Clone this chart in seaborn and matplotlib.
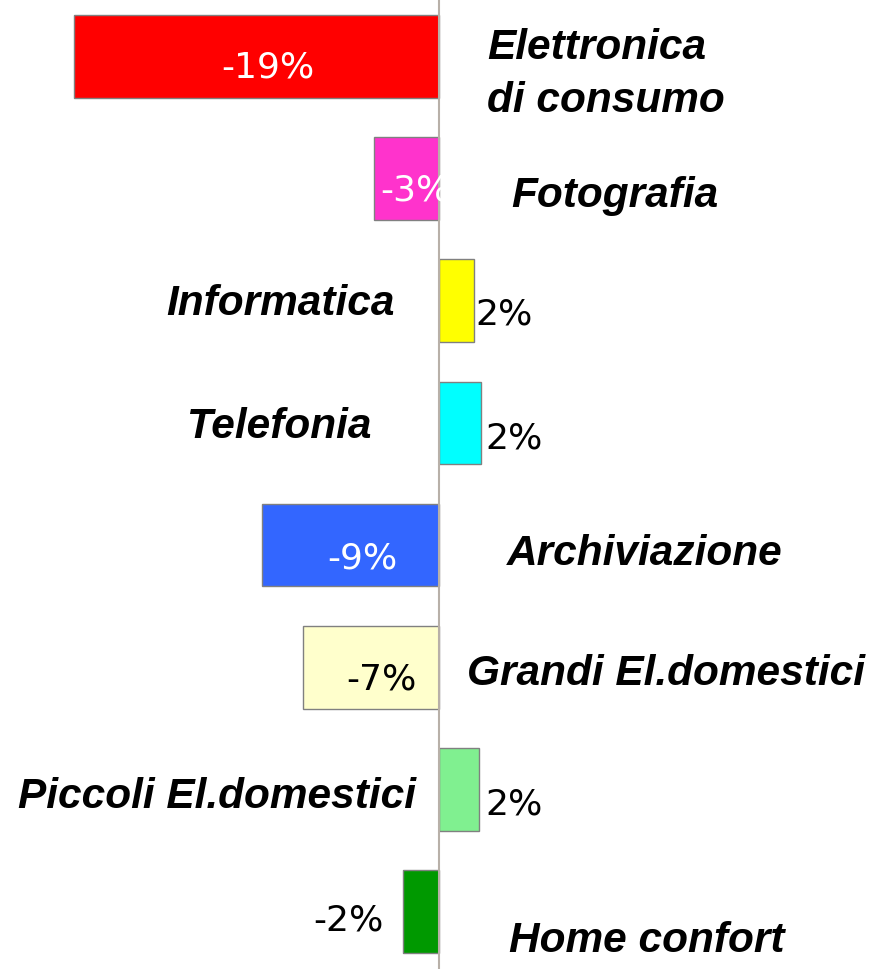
import matplotlib
matplotlib.use("Agg")
import matplotlib.pyplot as plt
import pandas as pd
import seaborn as sns

# data (percent change by category)
categories = ["Elettronica\ndi consumo", "Fotografia", "Informatica", "Telefonia",
              "Archiviazione", "Grandi El.domestici", "Piccoli El.domestici",
              "Home confort"]
values = [-19.0, -3.4, 1.8, 2.2, -9.2, -7.1, 2.1, -1.9]
value_labels = ["-19%", "-3%", "2%", "2%", "-9%", "-7%", "2%", "-2%"]

# styling / layout
bar_colors = ["#FF0000", "#FF33CC", "#FFFF00", "#00FFFF",
              "#3366FF", "#FFFFCC", "#80F090", "#009900"]
value_colors = ["white", "white", "black", "black", "white", "black", "black", "black"]
# (x, dy, ha) for value labels and category labels, in data units
value_pos = [(-8.9, 0.08, "center"), (-3.07, 0.09, "left"), (1.9, 0.10, "left"),
             (2.4, 0.12, "left"), (-4.0, 0.10, "center"), (-3.0, 0.09, "center"),
             (2.4, 0.12, "left"), (-2.9, 0.07, "right")]
cat_pos = [(2.5, 0.135, "left"), (3.75, 0.135, "left"), (-2.3, 0.015, "right"),
           (-3.5, 0.025, "right"), (3.55, 0.065, "left"), (1.45, 0.045, "left"),
           (-1.2, 0.055, "right"), (3.65, 0.235, "left")]

df = pd.DataFrame({"category": categories, "value": values})

sns.set_theme(style="white")
fig = plt.figure(figsize=(8.72, 9.70), dpi=100)
ax = fig.add_axes([0, 0, 1, 1])

sns.barplot(data=df, x="value", y="category", hue="category",
            palette=bar_colors, saturation=1, orient="h", width=0.68,
            legend=False, edgecolor="#808080", linewidth=1.0, ax=ax)

ax.axvline(0, color="#b8b0a8", lw=1.5, zorder=5)
ax.set_xlim(-439 / 19.2, 433 / 19.2)
ax.set_ylim(7.475, -0.475)
ax.axis("off")

for i, (lab, col, (x, dy, ha)) in enumerate(zip(value_labels, value_colors, value_pos)):
    ax.text(x, i + dy, lab, color=col, ha=ha, va="center",
            fontsize=26, family="DejaVu Sans", zorder=6)

for i, (cat, (x, dy, ha)) in enumerate(zip(categories, cat_pos)):
    ax.text(x, i + dy, cat, color="black", ha=ha, va="center", fontsize=30.5,
            family="Liberation Sans", fontweight="bold", fontstyle="italic",
            linespacing=1.42, zorder=6)

fig.savefig("out.png", dpi=100)
